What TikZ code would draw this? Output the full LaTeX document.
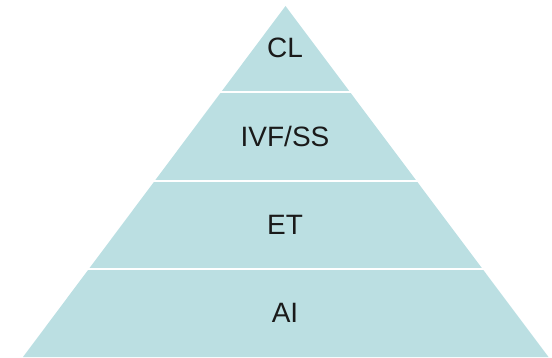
\documentclass[tikz,border=0pt]{standalone}
\usepackage{fontspec}
\setmainfont{Liberation Sans}
\definecolor{pyr}{HTML}{BBDFE2}
\definecolor{txt}{HTML}{1A1A1A}
\tikzset{
  lvl/.style={text=txt, font=\fontsize{28}{34}\selectfont, inner sep=0pt, anchor=center},
  gap/.style={draw=white, line width=2pt}
}
\begin{document}
\begin{tikzpicture}[x=1pt,y=1pt]
\useasboundingbox (0,0) rectangle (552,357);
\fill[pyr] (23,0) -- (548.5,0) -- (285.5,351) -- cycle;
\draw[gap] (0,265) -- (552,265);
\draw[gap] (0,176.5) -- (552,176.5);
\draw[gap] (0,88) -- (552,88);
\node[lvl] (cl) at (285,309) {CL};
\node[lvl] (ivf) at (285,220.5) {IVF/SS};
\node[lvl] (et) at (285,132.5) {ET};
\node[lvl] (ai) at (285,44.5) {AI};
\end{tikzpicture}
\end{document}
